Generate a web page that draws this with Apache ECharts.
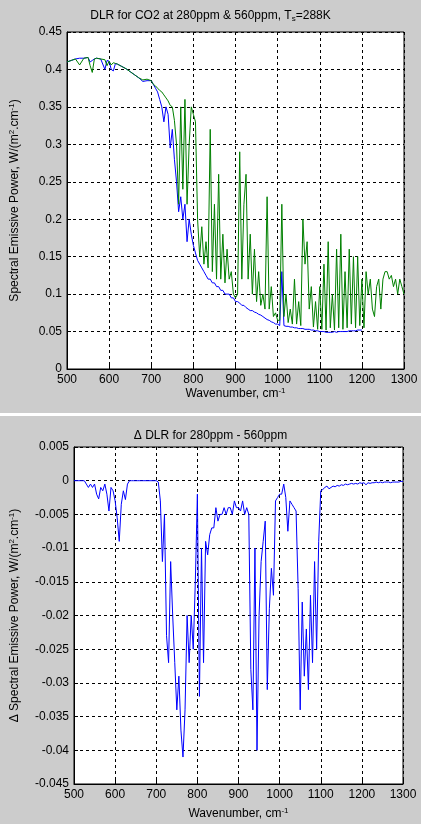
<!DOCTYPE html>
<html>
<head>
<meta charset="utf-8">
<script src="https://cdn.jsdelivr.net/npm/echarts@6/dist/echarts.min.js"></script>
<style>
  html, body { margin: 0; padding: 0; background: #cccccc; }
  #chart { width: 421px; height: 824px; }
</style>
</head>
<body>
<div id="chart"></div>
<script>
// wavenumbers for the upper plot (cm-1)
var topWn = [500,510,520,530,540,550,555,560,565,570,580,590,595,600,605,610,615,620,630,640,650,660,670,680,690,
  700,705,710,715,720,725,730,735,740,745,750,755,760,765,770,775,780,785,790,795,800,805,810,815,820,825,830,835,840,845,
  850,855,860,865,870,875,880,885,890,895,900,905,910,915,920,925,930,935,940,945,950,955,960,965,970,975,980,985,990,995,
  1000,1005,1010,1015,1020,1025,1030,1035,1040,1045,1050,1055,1060,1065,1070,1075,1080,1085,1090,1095,
  1100,1105,1110,1115,1120,1125,1130,1135,1140,1145,1150,1155,1160,1165,1170,1175,1180,1185,1190,1195,
  1200,1205,1210,1215,1220,1225,1230,1235,1240,1245,1250,1255,1260,1265,1270,1275,1280,1285,1290,1295,1300];

// 560ppm (green) spectrum
var green = [0.410,0.412,0.414,0.406,0.415,0.416,0.405,0.396,0.414,0.415,0.414,0.413,0.405,0.411,0.406,0.409,0.408,0.407,0.404,0.401,0.397,0.393,0.389,0.386,0.387,
  0.385,0.380,0.378,0.375,0.372,0.370,0.366,0.362,0.358,0.352,0.350,0.332,0.300,0.220,0.350,0.240,0.360,0.220,0.300,0.350,0.340,0.330,0.200,0.150,0.190,0.140,0.170,0.135,0.320,0.130,
  0.220,0.120,0.260,0.120,0.180,0.115,0.160,0.120,0.130,0.100,0.095,0.100,0.290,0.120,0.220,0.260,0.120,0.180,0.100,0.160,0.090,0.130,0.085,0.100,0.080,0.230,0.080,0.110,0.070,0.075,
  0.065,0.065,0.220,0.070,0.100,0.062,0.080,0.060,0.120,0.060,0.090,0.058,0.200,0.140,0.170,0.080,0.110,0.056,0.090,0.053,
  0.110,0.053,0.140,0.052,0.170,0.055,0.100,0.052,0.160,0.055,0.180,0.053,0.130,0.055,0.160,0.060,0.150,0.055,0.150,0.058,
  0.120,0.055,0.130,0.100,0.120,0.080,0.070,0.110,0.120,0.080,0.120,0.130,0.130,0.120,0.125,0.110,0.120,0.100,0.120,0.110,0.100];

// 280ppm (blue) spectrum, same wavenumbers from 500 up to 1200
var blue = [0.410,0.412,0.414,0.415,0.415,0.416,0.410,0.412,0.414,0.415,0.414,0.400,0.412,0.411,0.400,0.398,0.408,0.407,0.404,0.401,0.397,0.393,0.389,0.384,0.385,
  0.385,0.380,0.375,0.370,0.360,0.350,0.330,0.350,0.340,0.295,0.320,0.280,0.250,0.210,0.230,0.200,0.220,0.170,0.200,0.180,0.165,0.155,0.145,0.140,0.135,0.130,0.125,0.120,0.120,0.115,
  0.115,0.110,0.110,0.105,0.105,0.100,0.100,0.100,0.095,0.095,0.090,0.090,0.088,0.085,0.085,0.082,0.080,0.078,0.078,0.076,0.075,0.073,0.072,0.070,0.068,0.066,0.065,0.063,0.062,0.060,
  0.060,0.058,0.130,0.058,0.057,0.057,0.056,0.056,0.055,0.055,0.054,0.054,0.054,0.053,0.053,0.053,0.052,0.052,0.051,0.051,
  0.050,0.050,0.050,0.049,0.049,0.049,0.049,0.050,0.049,0.050,0.050,0.050,0.050,0.050,0.051,0.051,0.051,0.051,0.052,0.052,
  0.052];

// difference 280ppm - 560ppm, step 5 cm-1 from 500 to 1300
var deltaWn = [];
for (var w = 500; w <= 1300; w += 5) deltaWn.push(w);
var delta = [0,0,0,0,0,0,-0.0005,-0.001,-0.0005,-0.001,-0.0005,-0.002,-0.0027,-0.001,-0.0015,-0.0005,-0.002,-0.0045,-0.001,-0.0015,
  -0.003,-0.0055,-0.009,-0.0035,-0.0015,-0.0028,-0.0005,0,0,0,0,0,0,0,0,0,0,0,0,0,
  0,-0.0002,-0.003,-0.012,-0.005,-0.023,-0.027,-0.012,-0.020,-0.027,-0.034,-0.029,-0.037,-0.041,-0.034,-0.020,-0.027,-0.020,-0.025,-0.015,
  -0.002,-0.032,-0.010,-0.027,-0.009,-0.011,-0.008,-0.007,-0.007,-0.004,-0.006,-0.005,-0.005,-0.004,-0.005,-0.004,-0.004,-0.005,-0.003,-0.004,
  -0.004,-0.0045,-0.003,-0.005,-0.004,-0.005,-0.028,-0.034,-0.010,-0.040,-0.020,-0.012,-0.009,-0.006,-0.031,-0.019,-0.013,-0.017,-0.003,-0.0025,
  -0.002,-0.002,-0.0005,-0.0025,-0.0075,-0.003,-0.0035,-0.004,-0.0045,-0.016,-0.034,-0.018,-0.029,-0.022,-0.031,-0.017,-0.027,-0.012,-0.025,-0.009,
  -0.0015,-0.0013,-0.001,-0.0008,-0.0012,-0.001,-0.0008,-0.0009,-0.0007,-0.0008,-0.0006,-0.0007,-0.0005,-0.0006,-0.0005,-0.0004,-0.0005,-0.0004,-0.0005,-0.0003,
  -0.0004,-0.0003,-0.0006,-0.0003,-0.0004,-0.0003,-0.0003,-0.0002,-0.0003,-0.0002,-0.0003,-0.0002,-0.0002,-0.0002,-0.0003,-0.0002,-0.0002,-0.0002,-0.0002,-0.0001,-0.0001];

function pairs(xs, ys) {
  var out = [];
  for (var i = 0; i < ys.length; i++) out.push([xs[i], ys[i]]);
  return out;
}

var font = 'Liberation Sans, Arial, sans-serif';
var sup = { fontSize: 8, verticalAlign: 'top', padding: [0, 0, 6, 0], fontFamily: font, color: '#000' };
var sub = { fontSize: 8, padding: [6, 0, 0, 0], fontFamily: font, color: '#000' };
var dashed = { show: true, lineStyle: { color: '#000', type: [3, 3], width: 1 } };

function fmt(v) { return String(parseFloat(v.toFixed(3))); }

function xAxis(idx) {
  return {
    gridIndex: idx, type: 'value', min: 500, max: 1300, interval: 100,
    name: 'Wavenumber, cm{s|-1}', nameLocation: 'middle', nameGap: idx ? 23 : 18,
    nameTextStyle: { fontFamily: font, fontSize: 12, color: '#000', rich: { s: sup } },
    axisLine: { onZero: false, lineStyle: { color: '#000' } },
    axisTick: { inside: true, length: 4, lineStyle: { color: '#000' } },
    axisLabel: { fontFamily: font, fontSize: 12, color: '#000', margin: 5, formatter: fmt },
    splitLine: dashed
  };
}

var myChart = echarts.init(document.getElementById('chart'));
var option = {
  backgroundColor: '#cccccc',
  animation: false,
  title: [
    { text: 'DLR for CO2 at 280ppm & 560ppm, T{b|s}=288K', left: 'center', top: 4,
      textStyle: { fontFamily: font, fontSize: 12, fontWeight: 'normal', color: '#000', rich: { b: sub } } },
    { text: 'Δ DLR for 280ppm - 560ppm', left: 'center', top: 425,
      textStyle: { fontFamily: font, fontSize: 12, fontWeight: 'normal', color: '#000' } }
  ],
  grid: [
    { left: 58, top: 32, width: 346, height: 337, backgroundColor: '#fff', show: true, borderColor: '#000', borderWidth: 1 },
    { left: 65, top: 447, width: 338, height: 337, backgroundColor: '#fff', show: true, borderColor: '#000', borderWidth: 1 }
  ],
  xAxis: [xAxis(0), xAxis(1)],
  yAxis: [
    { gridIndex: 0, type: 'value', min: 0, max: 0.45, interval: 0.05,
      name: 'Spectral Emissive Power, W/(m{s|2}.cm{s|-1})', nameLocation: 'middle', nameGap: 45,
      nameTextStyle: { fontFamily: font, fontSize: 12, color: '#000', rich: { s: sup } },
      axisLine: { show: true, lineStyle: { color: '#000' } },
      axisTick: { inside: true, length: 4, lineStyle: { color: '#000' } },
      axisLabel: { fontFamily: font, fontSize: 12, color: '#000', margin: 5, formatter: fmt },
      splitLine: dashed },
    { gridIndex: 1, type: 'value', min: -0.045, max: 0.005, interval: 0.005,
      name: 'Δ Spectral Emissive Power, W/(m{s|2}.cm{s|-1})', nameLocation: 'middle', nameGap: 52,
      nameTextStyle: { fontFamily: font, fontSize: 12, color: '#000', rich: { s: sup } },
      axisLine: { show: true, lineStyle: { color: '#000' } },
      axisTick: { inside: true, length: 4, lineStyle: { color: '#000' } },
      axisLabel: { fontFamily: font, fontSize: 12, color: '#000', margin: 5, formatter: fmt },
      splitLine: dashed }
  ],
  series: [
    { type: 'line', xAxisIndex: 0, yAxisIndex: 0, data: pairs(topWn, blue), showSymbol: false,
      lineStyle: { color: '#0000ff', width: 1 } },
    { type: 'line', xAxisIndex: 0, yAxisIndex: 0, data: pairs(topWn, green), showSymbol: false,
      lineStyle: { color: '#008000', width: 1 } },
    { type: 'line', xAxisIndex: 1, yAxisIndex: 1, data: pairs(deltaWn, delta), showSymbol: false,
      lineStyle: { color: '#0000ff', width: 1 } }
  ],
  graphic: [
    { type: 'rect', shape: { x: 0, y: 413, width: 421, height: 3 }, style: { fill: '#ffffff' } }
  ]
};
myChart.setOption(option);
</script>
</body>
</html>
